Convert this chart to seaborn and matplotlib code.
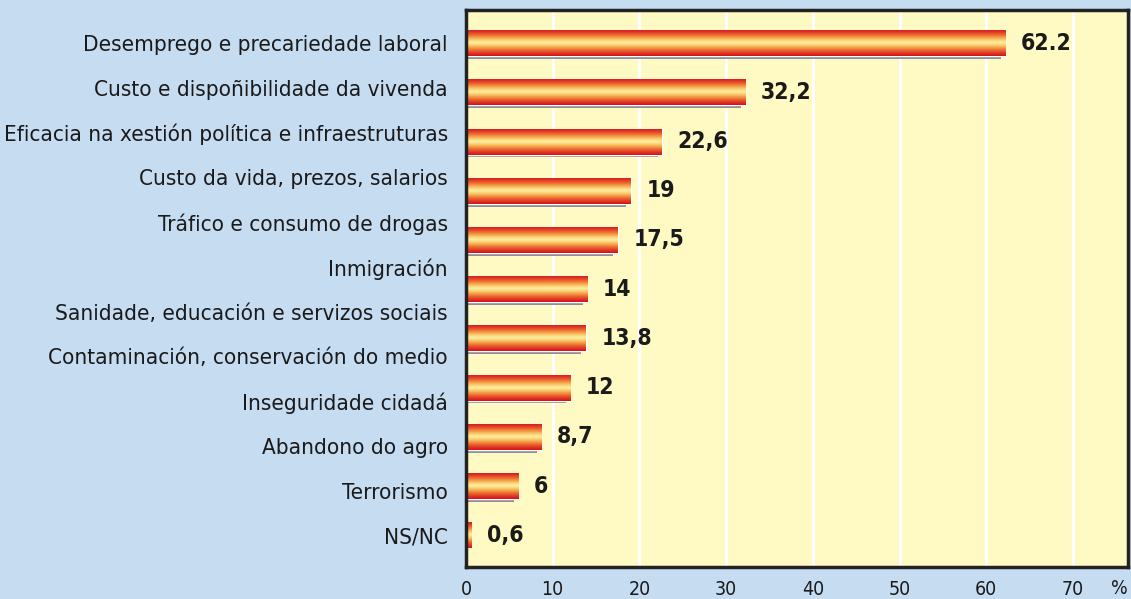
import numpy as np
import pandas as pd
import matplotlib
matplotlib.use('Agg')
import matplotlib.pyplot as plt
import matplotlib.patheffects as pe
from matplotlib.colors import LinearSegmentedColormap
import seaborn as sns

# the source chart lists 12 categories but draws only 11 bars
categories = [
    'Desemprego e precariedade laboral',
    'Custo e dispoñibilidade da vivenda',
    'Eficacia na xestión política e infraestruturas',
    'Custo da vida, prezos, salarios',
    'Tráfico e consumo de drogas',
    'Inmigración',
    'Sanidade, educación e servizos sociais',
    'Contaminación, conservación do medio',
    'Inseguridade cidadá',
    'Abandono do agro',
    'Terrorismo',
    'NS/NC',
]
values = [62.2, 32.2, 22.6, 19, 17.5, 14, 13.8, 12, 8.7, 6, 0.6]
value_labels = ['62.2', '32,2', '22,6', '19', '17,5', '14', '13,8', '12', '8,7', '6', '0,6']
tick_values = [0, 10, 20, 30, 40, 50, 60, 70]

sns.set_style('white')
plt.rcParams['font.family'] = ['Liberation Sans Narrow', 'DejaVu Sans']
plt.rcParams['font.stretch'] = 'condensed'

bg_blue = '#c6dcf1'
plot_yellow = '#fffac3'
spine_col = '#222222'
text_col = '#1a1a1a'
fs = 16.5

df = pd.DataFrame({'bar': [f'b{i}' for i in range(len(values))], 'value': values})

fig = plt.figure(figsize=(11.31, 5.99), dpi=100, facecolor=bg_blue)
ax = fig.add_axes([0.412, 0.053, 0.585, 0.930])
ax.set_facecolor(plot_yellow)

sns.barplot(data=df, x='value', y='bar', orient='h', color='#e03020',
            width=0.53, ax=ax, zorder=3)

# cylinder-like gradient, red at the edges, pale yellow in the middle
cmap = LinearSegmentedColormap.from_list('cyl', [
    '#d6121a', '#e03624', '#ea6430', '#f49a44', '#fccd70', '#fff2a4',
    '#fccd70', '#f49a44', '#ea6430', '#e03624', '#d6121a'])
grad = np.linspace(0, 1, 64).reshape(-1, 1)
for patch in ax.patches:
    x0, y0 = patch.get_x(), patch.get_y()
    w, h = patch.get_width(), patch.get_height()
    patch.set_path_effects([
        pe.SimplePatchShadow(offset=(-3.2, -2.0), shadow_rgbFace='#8e8e98', alpha=1),
        pe.Normal()])
    im = ax.imshow(grad, cmap=cmap, aspect='auto', extent=[x0, x0 + w, y0 + h, y0],
                   interpolation='bilinear', zorder=4)
    im.set_clip_path(patch)

ax.set_xlim(0, 76.3)
ax.set_ylim(10.65, -0.67)

for i, (v, lab) in enumerate(zip(values, value_labels)):
    ax.text(v + 1.8, i, lab, va='center', ha='left', fontsize=fs,
            fontweight='bold', color=text_col, zorder=5)

# category labels are spread evenly over the same span as the bars
n_bars = len(values)
label_pos = [i * (n_bars - 1) / (len(categories) - 1) for i in range(len(categories))]
ax.set_yticks(label_pos)
ax.set_yticklabels(categories, fontsize=fs, color=text_col)

ax.set_xticks(tick_values)
ax.set_xticklabels([str(t) for t in tick_values], fontsize=14, color=text_col)
ax.tick_params(axis='both', length=0)
ax.tick_params(axis='x', pad=9)
ax.tick_params(axis='y', pad=13)
ax.set_xlabel('')
ax.set_ylabel('')

ax.xaxis.grid(True, color='white', linewidth=2.2)
ax.yaxis.grid(False)
ax.set_axisbelow(True)

for side in ['left', 'bottom', 'top', 'right']:
    ax.spines[side].set_visible(True)
    ax.spines[side].set_color(spine_col)
    ax.spines[side].set_linewidth(2.5)
    ax.spines[side].set_zorder(6)

ax.text(1.0, -0.038, '%', transform=ax.transAxes, ha='right', va='center',
        fontsize=14, color=text_col)

# shrink the category labels if the available font is too wide for the margin
fig.canvas.draw()
renderer = fig.canvas.get_renderer()
left = min(t.get_window_extent(renderer).x0 for t in ax.get_yticklabels())
if left < 6:
    room = ax.get_window_extent(renderer).x0 - 13 * 100 / 72 - 6
    widest = max(t.get_window_extent(renderer).width for t in ax.get_yticklabels())
    new_fs = fs * room / widest
    for t in ax.get_yticklabels():
        t.set_fontsize(new_fs)

fig.savefig('out.png', dpi=100, facecolor=bg_blue)
